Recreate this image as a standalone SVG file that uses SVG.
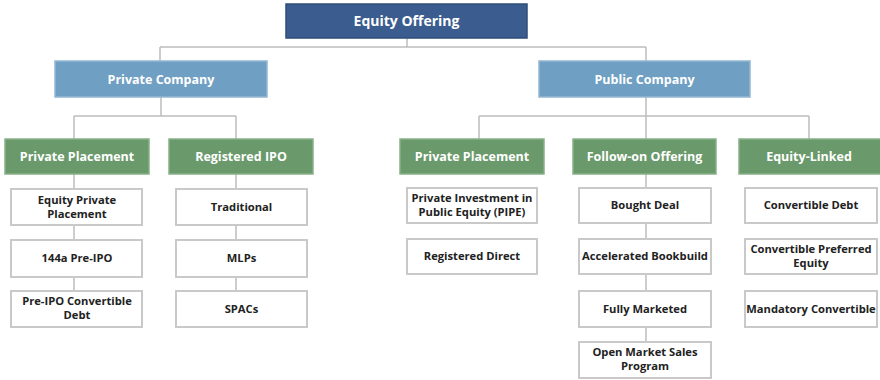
<svg xmlns="http://www.w3.org/2000/svg" width="880" height="380" viewBox="0 0 880 380">
  <style>
    .box { stroke-width: 1.5; }
    .root { fill: #3a5c8e; stroke: #2f4d78; }
    .co { fill: #6fa0c3; stroke: #94b7d2; }
    .cat { fill: #6a9a6b; stroke: #88b088; }
    .leaf { fill: #ffffff; stroke: #c9c9c9; stroke-width: 2; }
    text { font-family: "Open Sans", "Noto Sans", "Liberation Sans", sans-serif; font-weight: bold; text-anchor: middle; }
    .t-root { fill: #ffffff; font-size: 14px; }
    .t-co { fill: #ffffff; font-size: 12.5px; }
    .t-cat { fill: #ffffff; font-size: 12.5px; }
    .t-leaf { fill: #222222; font-size: 11.2px; }
    .wire { fill: none; stroke: #bdbdbd; stroke-width: 1.5; }
  </style>

  <g id="connectors" class="wire">
    <path d="M407 38 V47 M160 47 H646 M160 47 V61 M646 47 V61"/>
    <path d="M161 97 V116 M74 116 H236 M74 116 V139 M236 116 V139"/>
    <path d="M646 97 V139 M479 116 H809 M479 116 V139 M809 116 V139"/>
    <path d="M74 174 V291 M236 174 V291"/>
    <path d="M646 174 V342"/>
  </g>

  <g id="equity-offering">
    <rect class="box root" x="286" y="4" width="241" height="34"/>
    <text class="t-root" x="406.5" y="26">Equity Offering</text>
  </g>

  <g id="private-company">
    <rect class="box co" x="55" y="61" width="212" height="36"/>
    <text class="t-co" x="161" y="83.5">Private Company</text>
  </g>
  <g id="public-company">
    <rect class="box co" x="539" y="61" width="211" height="36"/>
    <text class="t-co" x="644.5" y="84">Public Company</text>
  </g>

  <g id="private-placement-private">
    <rect class="box cat" x="5" y="139" width="144" height="35"/>
    <text class="t-cat" x="77" y="161">Private Placement</text>
  </g>
  <g id="registered-ipo">
    <rect class="box cat" x="169" y="139" width="144" height="35"/>
    <text class="t-cat" x="241" y="161">Registered IPO</text>
  </g>
  <g id="private-placement-public">
    <rect class="box cat" x="400" y="139" width="144" height="35"/>
    <text class="t-cat" x="472" y="161">Private Placement</text>
  </g>
  <g id="follow-on-offering">
    <rect class="box cat" x="573" y="139" width="143" height="35"/>
    <text class="t-cat" x="644.5" y="161">Follow-on Offering</text>
  </g>
  <g id="equity-linked">
    <rect class="box cat" x="739" y="139" width="142" height="35"/>
    <text class="t-cat" x="809" y="161">Equity-Linked</text>
  </g>

  <g id="equity-private-placement">
    <rect class="leaf" x="11" y="189" width="131" height="36"/>
    <text class="t-leaf" x="77" y="204">Equity Private</text>
    <text class="t-leaf" x="77" y="218">Placement</text>
  </g>
  <g id="pre-ipo-144a">
    <rect class="leaf" x="11" y="240" width="131" height="37"/>
    <text class="t-leaf" x="77" y="262">144a Pre-IPO</text>
  </g>
  <g id="pre-ipo-convertible-debt">
    <rect class="leaf" x="11" y="291" width="131" height="36"/>
    <text class="t-leaf" x="77" y="305">Pre-IPO Convertible</text>
    <text class="t-leaf" x="77" y="319">Debt</text>
  </g>

  <g id="traditional">
    <rect class="leaf" x="176" y="189" width="131" height="36"/>
    <text class="t-leaf" x="241.5" y="211">Traditional</text>
  </g>
  <g id="mlps">
    <rect class="leaf" x="176" y="240" width="131" height="37"/>
    <text class="t-leaf" x="241.5" y="262">MLPs</text>
  </g>
  <g id="spacs">
    <rect class="leaf" x="176" y="291" width="131" height="36"/>
    <text class="t-leaf" x="241.5" y="313">SPACs</text>
  </g>

  <g id="pipe">
    <rect class="leaf" x="407" y="188" width="130" height="35"/>
    <text class="t-leaf" x="472" y="202">Private Investment in</text>
    <text class="t-leaf" x="472" y="216">Public Equity (PIPE)</text>
  </g>
  <g id="registered-direct">
    <rect class="leaf" x="407" y="239" width="130" height="35"/>
    <text class="t-leaf" x="472" y="260">Registered Direct</text>
  </g>

  <g id="bought-deal">
    <rect class="leaf" x="579" y="188" width="132" height="35"/>
    <text class="t-leaf" x="645" y="209">Bought Deal</text>
  </g>
  <g id="accelerated-bookbuild">
    <rect class="leaf" x="579" y="239" width="132" height="35"/>
    <text class="t-leaf" x="645" y="260">Accelerated Bookbuild</text>
  </g>
  <g id="fully-marketed">
    <rect class="leaf" x="579" y="291" width="132" height="36"/>
    <text class="t-leaf" x="645" y="313">Fully Marketed</text>
  </g>
  <g id="open-market-sales-program">
    <rect class="leaf" x="579" y="342" width="132" height="36"/>
    <text class="t-leaf" x="645" y="356">Open Market Sales</text>
    <text class="t-leaf" x="645" y="370">Program</text>
  </g>

  <g id="convertible-debt">
    <rect class="leaf" x="745" y="188" width="132" height="35"/>
    <text class="t-leaf" x="811" y="209">Convertible Debt</text>
  </g>
  <g id="convertible-preferred-equity">
    <rect class="leaf" x="745" y="239" width="132" height="35"/>
    <text class="t-leaf" x="811" y="253">Convertible Preferred</text>
    <text class="t-leaf" x="811" y="267">Equity</text>
  </g>
  <g id="mandatory-convertible">
    <rect class="leaf" x="745" y="291" width="132" height="36"/>
    <text class="t-leaf" x="811" y="313">Mandatory Convertible</text>
  </g>
</svg>
